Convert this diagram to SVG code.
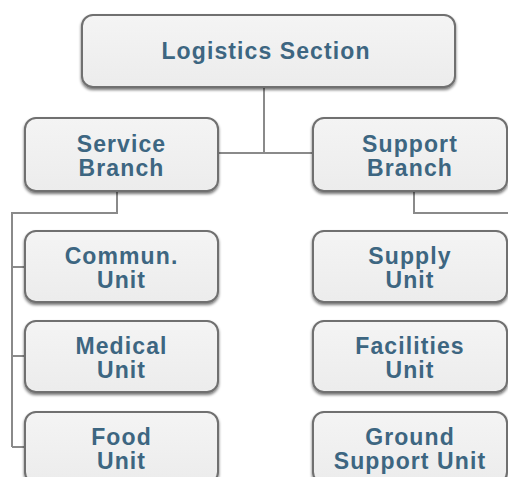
<svg xmlns="http://www.w3.org/2000/svg" width="508" height="477" viewBox="0 0 508 477">
<defs>
<filter id="sh" x="-10%" y="-20%" width="120%" height="150%">
<feGaussianBlur in="SourceAlpha" stdDeviation="1.6" result="b"/>
<feOffset in="b" dx="0" dy="1.5" result="o"/>
<feComponentTransfer in="o" result="s"><feFuncA type="linear" slope="0.55"/></feComponentTransfer>
<feMerge><feMergeNode in="s"/><feMergeNode in="SourceGraphic"/></feMerge>
</filter>
<linearGradient id="g" x1="0" y1="0" x2="0" y2="1">
<stop offset="0" stop-color="#f4f4f4"/>
<stop offset="1" stop-color="#ececec"/>
</linearGradient>
</defs>
<style>
.box{fill:url(#g);stroke:#6f6f6f;stroke-width:2;filter:url(#sh)}
.t{font-family:"Liberation Sans",Arial,sans-serif;font-weight:bold;font-size:23px;letter-spacing:1.1px;fill:#3d6681;text-anchor:middle}
.c{fill:none;stroke:#8a8a8a;stroke-width:2}
</style>
<rect width="508" height="477" fill="#ffffff"/>
<g id="connectors">
<path class="c" d="M264 87 V153 M218 153 H313"/>
<path class="c" d="M117 191 V213 H12 V447 M12 267 H25 M12 356 H25 M12 447 H25"/>
<path class="c" d="M414 191 V213 H520 V447 M506 267 H520 M506 356 H520 M506 447 H520"/>
</g>
<g id="logistics"><rect class="box" x="82" y="15" width="373" height="72" rx="11"/><text class="t" x="266" y="59">Logistics Section</text></g>
<g id="service"><rect class="box" x="25" y="118" width="193" height="73" rx="11"/><text class="t" x="121.5" y="152">Service</text><text class="t" x="121.5" y="176">Branch</text></g>
<g id="support"><rect class="box" x="313" y="118" width="194" height="73" rx="11"/><text class="t" x="410" y="152">Support</text><text class="t" x="410" y="176">Branch</text></g>
<g id="commun"><rect class="box" x="25" y="231" width="193" height="71" rx="11"/><text class="t" x="121.5" y="264">Commun.</text><text class="t" x="121.5" y="288">Unit</text></g>
<g id="medical"><rect class="box" x="25" y="321" width="193" height="71" rx="11"/><text class="t" x="121.5" y="354">Medical</text><text class="t" x="121.5" y="378">Unit</text></g>
<g id="food"><rect class="box" x="25" y="412" width="193" height="71" rx="11"/><text class="t" x="121.5" y="445">Food</text><text class="t" x="121.5" y="469">Unit</text></g>
<g id="supply"><rect class="box" x="313" y="231" width="194" height="71" rx="11"/><text class="t" x="410" y="264">Supply</text><text class="t" x="410" y="288">Unit</text></g>
<g id="facilities"><rect class="box" x="313" y="321" width="194" height="71" rx="11"/><text class="t" x="410" y="354">Facilities</text><text class="t" x="410" y="378">Unit</text></g>
<g id="ground"><rect class="box" x="313" y="412" width="194" height="71" rx="11"/><text class="t" x="410" y="445">Ground</text><text class="t" x="410" y="469">Support Unit</text></g>
</svg>
